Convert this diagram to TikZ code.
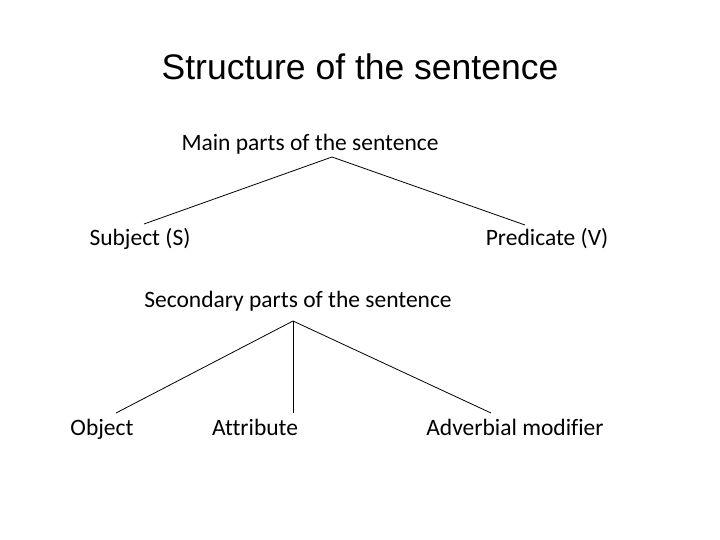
\documentclass[tikz,border=0pt]{standalone}
\usepackage{fontspec}
\setmainfont[Ligatures=NoCommon]{Carlito}
\newfontfamily\titlefont{Liberation Sans}
\begin{document}
\begin{tikzpicture}[x=1pt,y=-1pt,
  lbl/.style={inner sep=0pt,anchor=base,font=\fontsize{23.5}{28}\selectfont},
  ttl/.style={inner sep=0pt,anchor=base,font=\titlefont\fontsize{35.5}{42}\selectfont},
  conn/.style={line width=0.8pt,black}]
\useasboundingbox (0,0) rectangle (720,540);
\node[ttl] (title) at (360,80) {Structure of the sentence};
\node[lbl] (main) at (310,150.5) {Main parts of the sentence};
\node[lbl] (subj) at (140,245.5) {Subject (S)};
\node[lbl] (pred) at (547,245.5) {Predicate (V)};
\node[lbl] (sec) at (298,307) {Secondary parts of the sentence};
\node[lbl] (obj) at (102,435.5) {Object};
\node[lbl] (attr) at (255,435.5) {Attribute};
\node[lbl] (adv) at (515,435.5) {Adverbial modifier};
\coordinate (mtop) at (332,157);
\coordinate (sEnd) at (144,224);
\coordinate (pEnd) at (525,225);
\coordinate (stop) at (293,321);
\coordinate (oEnd) at (116,413);
\coordinate (aEnd) at (293,413);
\coordinate (dEnd) at (491,413);
\draw[conn] (sEnd) -- (mtop) -- (pEnd);
\draw[conn] (stop) -- (oEnd);
\draw[conn] (stop) -- (aEnd);
\draw[conn] (stop) -- (dEnd);
\end{tikzpicture}
\end{document}
